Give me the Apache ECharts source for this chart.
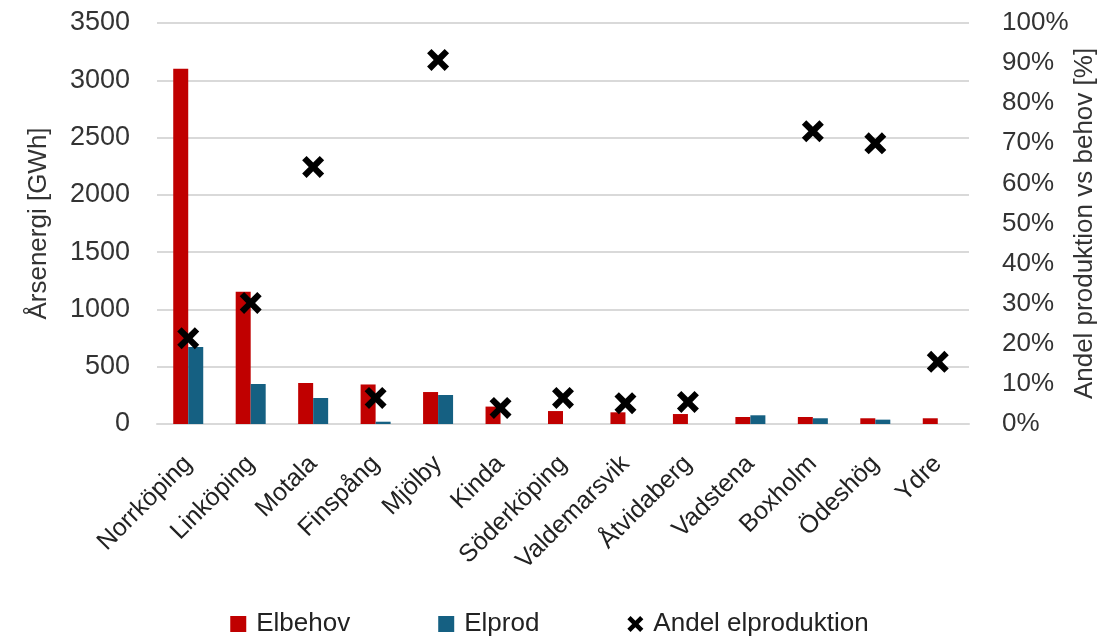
<!DOCTYPE html>
<html>
<head>
<meta charset="utf-8">
<script src="https://cdn.jsdelivr.net/npm/echarts@6/dist/echarts.min.js"></script>
<style>
  html, body { margin: 0; padding: 0; background: #fff; }
  #chart { width: 1099px; height: 636px; }
</style>
</head>
<body>
<div id="chart"></div>
<script>
const kommuner = ['Norrköping', 'Linköping', 'Motala', 'Finspång', 'Mjölby', 'Kinda', 'Söderköping',
  'Valdemarsvik', 'Åtvidaberg', 'Vadstena', 'Boxholm', 'Ödeshög', 'Ydre']
const elbehov = [3100, 1155, 358, 345, 279, 152, 113, 102, 87, 61, 61, 50, 50]
const elprod = [672, 349, 227, 20, 253, 0, 0, 0, 0, 76, 50, 38, 0]
// andel i procent, Vadstena ligger över 100% och syns inte
const andel = [21.4, 30.2, 64.1, 6.5, 90.8, 4.0, 6.5, 5.2, 5.5, null, 73.0, 70.0, 15.5]

const font = 'Liberation Sans'
const crossPath = 'path://M0,4 L4,0 L10,6 L16,0 L20,4 L14,10 L20,16 L16,20 L10,14 L4,20 L0,16 L6,10 Z'

const chart = echarts.init(document.getElementById('chart'))
chart.setOption({
  animation: false,
  textStyle: { fontFamily: font },
  grid: { left: 157, right: 130, top: 23, bottom: 212, outerBoundsMode: 'none', containLabel: false },
  legend: {
    top: 606,
    left: 'center',
    itemGap: 88,
    itemWidth: 16,
    itemHeight: 16,
    textStyle: { fontSize: 26, color: '#222', fontFamily: font, padding: [0, 0, 0, 5] },
    data: [
      { name: 'Elbehov', icon: 'rect' },
      { name: 'Elprod', icon: 'rect' },
      { name: 'Andel elproduktion', icon: crossPath, itemStyle: { color: '#000', opacity: 1 } }
    ]
  },
  xAxis: {
    type: 'category',
    data: kommuner,
    axisLine: { lineStyle: { color: '#d9d9d9', width: 2 } },
    axisTick: { show: false },
    axisLabel: { rotate: 45, fontSize: 25, color: '#222', margin: 36, interval: 0 }
  },
  yAxis: [
    {
      type: 'value',
      min: 0,
      max: 3500,
      interval: 500,
      name: 'Årsenergi [GWh]',
      nameLocation: 'middle',
      nameGap: 105,
      nameMoveOverlap: false,
      nameTextStyle: { fontSize: 26, color: '#333' },
      axisLabel: { fontSize: 27, color: '#333', margin: 27, formatter: v => String(v) },
      splitLine: { lineStyle: { color: '#d9d9d9', width: 2 } }
    },
    {
      type: 'value',
      min: 0,
      max: 100,
      interval: 10,
      name: 'Andel produktion vs behov [%]',
      nameLocation: 'middle',
      nameGap: 103,
      nameMoveOverlap: false,
      nameTextStyle: { fontSize: 26, color: '#333' },
      axisLabel: { fontSize: 26, color: '#333', margin: 33, formatter: '{value}%' },
      splitLine: { show: false }
    }
  ],
  series: [
    {
      name: 'Elbehov',
      type: 'bar',
      data: elbehov,
      barWidth: 15,
      barGap: '0%',
      itemStyle: { color: '#C00000' }
    },
    {
      name: 'Elprod',
      type: 'bar',
      data: elprod,
      barWidth: 15,
      itemStyle: { color: '#156082' }
    },
    {
      name: 'Andel elproduktion',
      type: 'scatter',
      yAxisIndex: 1,
      data: andel,
      symbol: crossPath,
      symbolSize: 22,
      itemStyle: { color: '#000', opacity: 1 },
      z: 5
    }
  ]
})
</script>
</body>
</html>
